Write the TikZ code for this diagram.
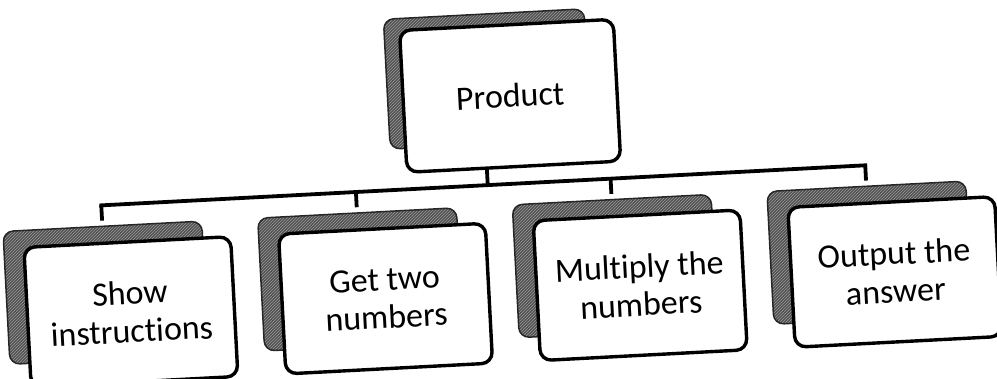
\documentclass[tikz,border=0pt]{standalone}
\usepackage{fontspec}
\setmainfont[Ligatures=NoCommon]{Carlito}
\usetikzlibrary{patterns}
\begin{document}
\begin{tikzpicture}[x=1pt,y=-1pt,
  front/.style={draw=black, line width=3.4pt, fill=white, rounded corners=11pt,
    minimum width=207pt, minimum height=140pt, inner sep=0pt, align=center,
    font=\fontsize{34}{38}\selectfont},
  shade/.style={draw=black!85, line width=1.5pt, rounded corners=10pt,
    preaction={fill=black!68}, pattern=north east lines, pattern color=black!40,
    minimum width=199pt, minimum height=133pt, inner sep=0pt},
  conn/.style={line width=3.8pt, line cap=rect}]
\useasboundingbox (0,0) rectangle (997,379);
\begin{scope}[rotate around={3:(490,190)}, transform shape]
  % product
  \node[shade, minimum width=201pt, minimum height=130pt] (ps) at (493,79) {};
  \node[front, minimum width=214pt, minimum height=142pt] (p) at (515,97) {Product};
  % bottom boxes
  \node[shade] (s1) at (101,272.5) {};
  \node[front] (b1) at (125,293) {Show\\instructions};
  \node[shade] (s2) at (356,272.5) {};
  \node[front] (b2) at (380,293) {Get two\\numbers};
  \node[shade] (s3) at (611,272.5) {};
  \node[front] (b3) at (635,293) {Multiply the\\numbers};
  \node[shade] (s4) at (866,272.5) {};
  \node[front] (b4) at (890,293) {Output the\\answer};
  % connectors
  \coordinate (stem) at (488,168);
  \coordinate (bus0) at (488,185);
  \coordinate (bus1) at (101,185);
  \coordinate (bus2) at (356,185);
  \coordinate (bus3) at (611,185);
  \coordinate (bus4) at (866,185);
  \draw[conn, line cap=butt] (stem) -- (bus0);
  \draw[conn] (bus1) -- (bus4);
  \foreach \i in {1,2,3,4}
    \draw[conn, line cap=butt, shorten >=5pt] (bus\i) -- (s\i.north);
\end{scope}
\end{tikzpicture}
\end{document}
